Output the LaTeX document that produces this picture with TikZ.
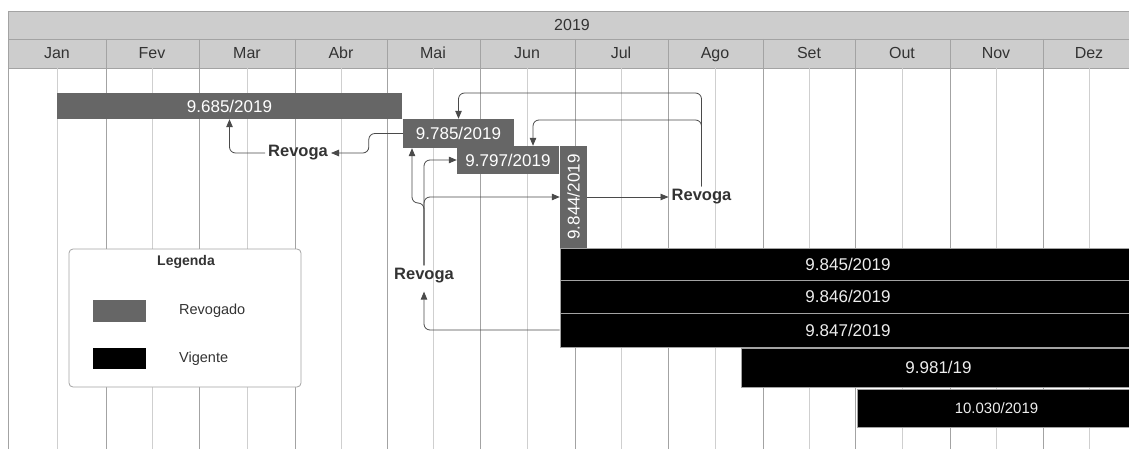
\documentclass[tikz,border=0pt]{standalone}
\usepackage{fontspec}
\setmainfont{Liberation Sans}
\usetikzlibrary{arrows.meta}
\definecolor{revogado}{HTML}{666666}
\definecolor{cabecalho}{HTML}{CDCDCD}
\definecolor{grademes}{HTML}{A3A3A3}
\definecolor{gradequinz}{HTML}{CFCFCF}
\definecolor{seta}{HTML}{4A4A4A}
\definecolor{texto}{HTML}{333333}

\begin{document}
\begin{tikzpicture}[x=1pt,y=-1pt,
  mes/.style={anchor=base,inner sep=0pt,text=texto,font=\fontsize{16}{19}\selectfont},
  linhames/.style={draw=grademes,line width=0.9pt},
  linhaquinz/.style={draw=gradequinz,line width=0.8pt},
  barcinza/.style={fill=revogado,draw=none,inner sep=0pt,text=white,font=\fontsize{17}{20}\selectfont},
  barpreta/.style={fill=black,draw=grademes,line width=0.8pt,inner sep=0pt,text=white!93!black,font=\fontsize{17}{20}\selectfont},
  revoga/.style={inner sep=3pt,text=texto,font=\fontsize{16.5}{19}\selectfont\bfseries},
  ligacao/.style={draw=seta,line width=0.8pt,rounded corners=6pt,-{Triangle[length=8pt,width=6.5pt]}},
  legtexto/.style={inner sep=0pt,text=texto,font=\fontsize{14.5}{17}\selectfont}]
\path[use as bounding box] (0,0) rectangle (1129,449);
\clip (0,0) rectangle (1129,449);
\fill[cabecalho] (8,11) rectangle (1136,68);
\draw[linhames] (8,11) -- (1136,11) (8,39) -- (1136,39) (8,68) -- (1136,68);
\node[mes] (ano) at (572,31) {2019};
\draw[linhaquinz] (57,68) -- (57,449) (152,68) -- (152,449) (247,68) -- (247,449) (341,68) -- (341,449)
  (433,68) -- (433,449) (527,68) -- (527,449) (621,68) -- (621,449) (715,68) -- (715,449)
  (809,68) -- (809,449) (902,68) -- (902,449) (996,68) -- (996,449) (1089,68) -- (1089,449);
\draw[linhames] (8,11) -- (8,449) (106,39) -- (106,449) (199,39) -- (199,449) (295,39) -- (295,449)
  (387,39) -- (387,449) (480,39) -- (480,449) (575,39) -- (575,449) (668,39) -- (668,449)
  (763,39) -- (763,449) (855,39) -- (855,449) (950,39) -- (950,449) (1043,39) -- (1043,449);
\node[mes] (mjan) at (57,59) {Jan};
\node[mes] (mfev) at (152,59) {Fev};
\node[mes] (mmar) at (247,59) {Mar};
\node[mes] (mabr) at (341,59) {Abr};
\node[mes] (mmai) at (433,59) {Mai};
\node[mes] (mjun) at (527,59) {Jun};
\node[mes] (mjul) at (621,59) {Jul};
\node[mes] (mago) at (715,59) {Ago};
\node[mes] (mset) at (809,59) {Set};
\node[mes] (mout) at (902,59) {Out};
\node[mes] (mnov) at (996,59) {Nov};
\node[mes] (mdez) at (1089,59) {Dez};
\node[barcinza,minimum width=345,minimum height=26] (b9685) at (229.5,106) {9.685/2019};
\node[barcinza,minimum width=111,minimum height=29] (b9785) at (458.5,133.5) {9.785/2019};
\node[barcinza,minimum width=102,minimum height=28] (b9797) at (508,160) {9.797/2019};
\node[barcinza,minimum width=27,minimum height=102] (b9844) at (573.5,197) {\rotatebox{90}{9.844/2019}};
\node[barpreta,minimum width=576,minimum height=32] (b9845) at (848,264) {9.845/2019};
\node[barpreta,minimum width=576,minimum height=33] (b9846) at (848,296.5) {9.846/2019};
\node[barpreta,minimum width=576,minimum height=34] (b9847) at (848,330) {9.847/2019};
\node[barpreta,minimum width=395,minimum height=39] (b9981) at (938.5,367.5) {9.981/19};
\node[barpreta,minimum width=279,minimum height=38,font=\fontsize{15}{18}\selectfont] (b10030) at (996.5,408) {10.030/2019};
\node[revoga] (rv1) at (298,153) {Revoga};
\node[revoga] (rv2) at (701.5,197) {Revoga};
\node[revoga] (rv3) at (424,276) {Revoga};
\coordinate (c2a) at (701.5,93);
\coordinate (c2b) at (701.5,120);
\coordinate (c3) at (424,203);
\draw[ligacao] (b9785.west) -- ++(-34,0) |- (rv1.east);
\draw[ligacao] (rv1.west) -| (b9685.south);
\draw[ligacao] (b9844.east) -- (rv2.west);
\draw[ligacao] (rv2.north) -- (c2a) -| (b9785.north);
\draw[ligacao] (rv2.north) -- (c2b) -| ([xshift=25pt]b9797.north);
\draw[ligacao] (rv3.north) -- (c3) -| ([xshift=-46.5pt]b9785.south);
\draw[ligacao] (rv3.north) |- (b9797.west);
\draw[ligacao] (rv3.north) |- (b9844.west);
\draw[ligacao,shorten >=5pt] (b9847.west) -| (rv3.south);
\node[draw=grademes,line width=0.8pt,fill=white,rounded corners=4pt,minimum width=232,minimum height=138] (leg) at (185,318) {};
\node[legtexto,font=\fontsize{14}{17}\selectfont\bfseries] (legtit) at (186,262) {Legenda};
\node[fill=revogado,inner sep=0pt,minimum width=53,minimum height=22] (qrev) at (119.5,311) {};
\node[fill=black,inner sep=0pt,minimum width=53,minimum height=21] (qvig) at (119.5,358.5) {};
\node[legtexto,anchor=west] (trev) at (179,311) {Revogado};
\node[legtexto,anchor=west] (tvig) at (179,359) {Vigente};
\end{tikzpicture}
\end{document}
